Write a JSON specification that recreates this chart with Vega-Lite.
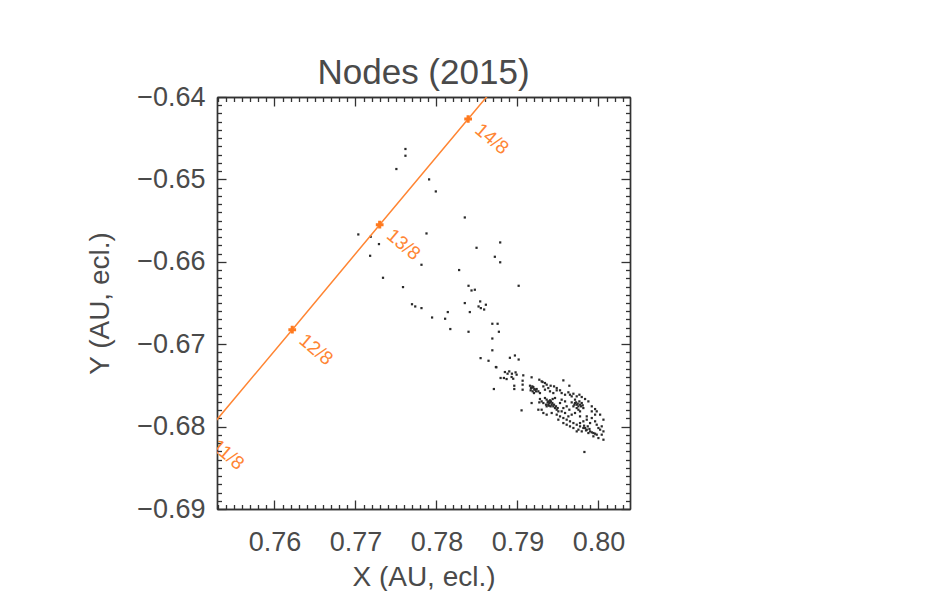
{
  "$schema": "https://vega.github.io/schema/vega-lite/v6.json",
  "width": 413,
  "height": 412,
  "autosize": {"type": "none"},
  "padding": {"left": 217, "top": 97, "right": 311, "bottom": 82},
  "background": "white",
  "config": {
    "view": {"stroke": null},
    "font": "Liberation Sans",
    "axis": {
      "grid": false,
      "domainColor": "#333",
      "domainWidth": 1.4,
      "tickColor": "#333",
      "tickWidth": 1.3,
      "labelFont": "Liberation Sans",
      "labelFontSize": 27,
      "labelColor": "#4a4a4a",
      "labelFlush": false,
      "labelOverlap": false,
      "labelBound": false,
      "titleFont": "Liberation Sans",
      "titleFontSize": 28,
      "titleFontWeight": "normal",
      "titleColor": "#4a4a4a"
    }
  },
  "title": {
    "text": "Nodes (2015)",
    "font": "Liberation Sans",
    "fontSize": 35,
    "fontWeight": "normal",
    "color": "#4a4a4a",
    "anchor": "middle",
    "baseline": "alphabetic",
    "offset": -36
  },
  "datasets": {
    "dust": [
      {"x": 0.77617, "y": -0.64631}, {"x": 0.77617, "y": -0.64713}, {"x": 0.77505, "y": -0.64874},
      {"x": 0.77909, "y": -0.65000}, {"x": 0.77992, "y": -0.65146}, {"x": 0.78350, "y": -0.65462},
      {"x": 0.77877, "y": -0.65656}, {"x": 0.77188, "y": -0.65696}, {"x": 0.77035, "y": -0.65668},
      {"x": 0.77290, "y": -0.65785}, {"x": 0.77181, "y": -0.65927}, {"x": 0.78495, "y": -0.65830},
      {"x": 0.78787, "y": -0.65765}, {"x": 0.78721, "y": -0.65939}, {"x": 0.78787, "y": -0.66006},
      {"x": 0.77815, "y": -0.66036}, {"x": 0.78280, "y": -0.66100}, {"x": 0.77340, "y": -0.66194},
      {"x": 0.77587, "y": -0.66307}, {"x": 0.78396, "y": -0.66291}, {"x": 0.78433, "y": -0.66348},
      {"x": 0.78474, "y": -0.66339}, {"x": 0.79015, "y": -0.66291}, {"x": 0.77698, "y": -0.66515},
      {"x": 0.77738, "y": -0.66542}, {"x": 0.77815, "y": -0.66562}, {"x": 0.78350, "y": -0.66501},
      {"x": 0.78540, "y": -0.66481}, {"x": 0.78520, "y": -0.66542}, {"x": 0.78548, "y": -0.66562},
      {"x": 0.78589, "y": -0.66579}, {"x": 0.78610, "y": -0.66521}, {"x": 0.78412, "y": -0.66610},
      {"x": 0.78140, "y": -0.66610}, {"x": 0.77946, "y": -0.66676}, {"x": 0.78107, "y": -0.66691},
      {"x": 0.78171, "y": -0.66816}, {"x": 0.78396, "y": -0.66849}, {"x": 0.78690, "y": -0.66752},
      {"x": 0.78755, "y": -0.66752}, {"x": 0.78771, "y": -0.66849}, {"x": 0.78690, "y": -0.66931},
      {"x": 0.78690, "y": -0.67074}, {"x": 0.78545, "y": -0.67169}, {"x": 0.78643, "y": -0.67201},
      {"x": 0.78740, "y": -0.67280}, {"x": 0.78907, "y": -0.67165}, {"x": 0.78969, "y": -0.67137},
      {"x": 0.79015, "y": -0.67186},
      {"x": 0.78734, "y": -0.67277}, {"x": 0.78845, "y": -0.67338}, {"x": 0.78878, "y": -0.67358},
      {"x": 0.78899, "y": -0.67330}, {"x": 0.78932, "y": -0.67358}, {"x": 0.78977, "y": -0.67342},
      {"x": 0.78990, "y": -0.67370}, {"x": 0.79072, "y": -0.67378}, {"x": 0.79175, "y": -0.67402},
      {"x": 0.79270, "y": -0.67431}, {"x": 0.79311, "y": -0.67459}, {"x": 0.79340, "y": -0.67471},
      {"x": 0.79361, "y": -0.67491}, {"x": 0.79410, "y": -0.67504}, {"x": 0.79452, "y": -0.67512},
      {"x": 0.79485, "y": -0.67532}, {"x": 0.79567, "y": -0.67439}, {"x": 0.79641, "y": -0.67504},
      {"x": 0.79526, "y": -0.67560}, {"x": 0.78792, "y": -0.67410}, {"x": 0.78833, "y": -0.67410},
      {"x": 0.78866, "y": -0.67423}, {"x": 0.78928, "y": -0.67398}, {"x": 0.78948, "y": -0.67419},
      {"x": 0.79064, "y": -0.67443}, {"x": 0.79064, "y": -0.67491}, {"x": 0.79064, "y": -0.67552},
      {"x": 0.78961, "y": -0.67504}, {"x": 0.78961, "y": -0.67544}, {"x": 0.78709, "y": -0.67544},
      {"x": 0.79155, "y": -0.67504}, {"x": 0.79175, "y": -0.67532}, {"x": 0.79196, "y": -0.67520},
      {"x": 0.79216, "y": -0.67552}, {"x": 0.79188, "y": -0.67572}, {"x": 0.79163, "y": -0.67560},
      {"x": 0.79237, "y": -0.67544}, {"x": 0.79204, "y": -0.67593}, {"x": 0.79258, "y": -0.67572},
      {"x": 0.79278, "y": -0.67593}, {"x": 0.79299, "y": -0.67451}, {"x": 0.79320, "y": -0.67512},
      {"x": 0.79340, "y": -0.67552}, {"x": 0.79381, "y": -0.67532}, {"x": 0.79402, "y": -0.67572},
      {"x": 0.79443, "y": -0.67593}, {"x": 0.79485, "y": -0.67560}, {"x": 0.79546, "y": -0.67593},
      {"x": 0.79588, "y": -0.67613}, {"x": 0.79629, "y": -0.67584}, {"x": 0.79649, "y": -0.67613},
      {"x": 0.79670, "y": -0.67633}, {"x": 0.79691, "y": -0.67601}, {"x": 0.79732, "y": -0.67633},
      {"x": 0.79765, "y": -0.67613}, {"x": 0.79794, "y": -0.67641}, {"x": 0.79835, "y": -0.67665},
      {"x": 0.79876, "y": -0.67694}, {"x": 0.79918, "y": -0.67754}, {"x": 0.79959, "y": -0.67787},
      {"x": 0.79979, "y": -0.67815}, {"x": 0.80021, "y": -0.67855}, {"x": 0.80062, "y": -0.67916},
      {"x": 0.79340, "y": -0.67653}, {"x": 0.79361, "y": -0.67673}, {"x": 0.79381, "y": -0.67694},
      {"x": 0.79402, "y": -0.67706}, {"x": 0.79423, "y": -0.67734}, {"x": 0.79443, "y": -0.67754},
      {"x": 0.79464, "y": -0.67775}, {"x": 0.79485, "y": -0.67795}, {"x": 0.79505, "y": -0.67815},
      {"x": 0.79361, "y": -0.67754}, {"x": 0.79381, "y": -0.67734}, {"x": 0.79402, "y": -0.67681},
      {"x": 0.79435, "y": -0.67665}, {"x": 0.79464, "y": -0.67653}, {"x": 0.79394, "y": -0.67714},
      {"x": 0.79410, "y": -0.67754}, {"x": 0.79320, "y": -0.67714}, {"x": 0.79299, "y": -0.67694},
      {"x": 0.79278, "y": -0.67665}, {"x": 0.79711, "y": -0.67714}, {"x": 0.79732, "y": -0.67734},
      {"x": 0.79753, "y": -0.67754}, {"x": 0.79773, "y": -0.67734}, {"x": 0.79794, "y": -0.67714},
      {"x": 0.79765, "y": -0.67694}, {"x": 0.79732, "y": -0.67775}, {"x": 0.79691, "y": -0.67754},
      {"x": 0.79814, "y": -0.67775}, {"x": 0.79753, "y": -0.67795}, {"x": 0.79773, "y": -0.67815},
      {"x": 0.79711, "y": -0.67673}, {"x": 0.79670, "y": -0.67706}, {"x": 0.79175, "y": -0.67714},
      {"x": 0.79270, "y": -0.67706}, {"x": 0.79258, "y": -0.67795}, {"x": 0.79299, "y": -0.67795},
      {"x": 0.79320, "y": -0.67835}, {"x": 0.79361, "y": -0.67855}, {"x": 0.79423, "y": -0.67835},
      {"x": 0.79485, "y": -0.67855}, {"x": 0.79526, "y": -0.67876}, {"x": 0.79567, "y": -0.67896},
      {"x": 0.79608, "y": -0.67916}, {"x": 0.79629, "y": -0.67876}, {"x": 0.79588, "y": -0.67835},
      {"x": 0.79546, "y": -0.67815}, {"x": 0.79567, "y": -0.67775}, {"x": 0.79608, "y": -0.67754},
      {"x": 0.79641, "y": -0.67795}, {"x": 0.79526, "y": -0.67714}, {"x": 0.79546, "y": -0.67673},
      {"x": 0.79588, "y": -0.67694}, {"x": 0.79649, "y": -0.67936}, {"x": 0.79691, "y": -0.67957},
      {"x": 0.79732, "y": -0.67977}, {"x": 0.79773, "y": -0.67997}, {"x": 0.79814, "y": -0.68017},
      {"x": 0.79856, "y": -0.68037}, {"x": 0.79897, "y": -0.68058}, {"x": 0.79938, "y": -0.68078},
      {"x": 0.79753, "y": -0.68037}, {"x": 0.79794, "y": -0.68058}, {"x": 0.79835, "y": -0.68017},
      {"x": 0.79876, "y": -0.68078}, {"x": 0.79773, "y": -0.67957}, {"x": 0.79814, "y": -0.67936},
      {"x": 0.79856, "y": -0.67916}, {"x": 0.79918, "y": -0.67896}, {"x": 0.79959, "y": -0.67936},
      {"x": 0.79979, "y": -0.67977}, {"x": 0.80000, "y": -0.68017}, {"x": 0.80021, "y": -0.68037},
      {"x": 0.80041, "y": -0.67997}, {"x": 0.80062, "y": -0.68058}, {"x": 0.80041, "y": -0.68098},
      {"x": 0.80062, "y": -0.68159}, {"x": 0.79979, "y": -0.68098}, {"x": 0.79938, "y": -0.68118},
      {"x": 0.80000, "y": -0.68139}, {"x": 0.79732, "y": -0.68058}, {"x": 0.79691, "y": -0.68017},
      {"x": 0.79051, "y": -0.67803}, {"x": 0.79827, "y": -0.68308}, {"x": 0.79918, "y": -0.67815},
      {"x": 0.79959, "y": -0.67855}, {"x": 0.79856, "y": -0.67876}, {"x": 0.79897, "y": -0.67957},
      {"x": 0.79773, "y": -0.67876}, {"x": 0.79711, "y": -0.67835}, {"x": 0.79670, "y": -0.67855},
      {"x": 0.79505, "y": -0.67916}, {"x": 0.79567, "y": -0.67957}, {"x": 0.79608, "y": -0.67977},
      {"x": 0.79649, "y": -0.67997}, {"x": 0.79373, "y": -0.67706}, {"x": 0.79390, "y": -0.67746},
      {"x": 0.79414, "y": -0.67694}, {"x": 0.79431, "y": -0.67714}, {"x": 0.79452, "y": -0.67734},
      {"x": 0.79353, "y": -0.67734}, {"x": 0.79476, "y": -0.67754}, {"x": 0.79497, "y": -0.67775},
      {"x": 0.79724, "y": -0.67706}, {"x": 0.79744, "y": -0.67722}, {"x": 0.79786, "y": -0.67754},
      {"x": 0.79703, "y": -0.67734}, {"x": 0.79806, "y": -0.67742}, {"x": 0.79847, "y": -0.68046},
      {"x": 0.79889, "y": -0.68029}, {"x": 0.79918, "y": -0.68070}, {"x": 0.79823, "y": -0.67989},
      {"x": 0.79959, "y": -0.68086}, {"x": 0.79868, "y": -0.67997}, {"x": 0.79183, "y": -0.67512},
      {"x": 0.79208, "y": -0.67544}, {"x": 0.79229, "y": -0.67572}, {"x": 0.79167, "y": -0.67532}
    ],
    "nodes": [
      {"date": "11/8", "day": 11, "x": 0.75131, "y": -0.68100},
      {"date": "12/8", "day": 12, "x": 0.76219, "y": -0.66824},
      {"date": "13/8", "day": 13, "x": 0.77299, "y": -0.65550},
      {"date": "14/8", "day": 14, "x": 0.78391, "y": -0.64267},
      {"date": "15/8", "day": 15, "x": 0.79483, "y": -0.62984}
    ]
  },
  "layer": [
    {
      "data": {"name": "dust"},
      "mark": {"type": "point", "shape": "square", "filled": true, "size": 5, "color": "#2a2a2a", "opacity": 1, "clip": true},
      "encoding": {
        "x": {
          "field": "x", "type": "quantitative",
          "scale": {"domain": [0.7529, 0.8039], "nice": false, "zero": false},
          "axis": {
            "orient": "bottom",
            "values": [0.76, 0.77, 0.78, 0.79, 0.80],
            "format": ".2f",
            "tickSize": -9,
            "labelPadding": 29,
            "title": "X (AU, ecl.)",
            "titleY": 68,
            "titleBaseline": "middle"
          }
        },
        "y": {
          "field": "y", "type": "quantitative",
          "scale": {"domain": [-0.69, -0.64], "nice": false, "zero": false},
          "axis": {
            "orient": "left",
            "values": [-0.69, -0.68, -0.67, -0.66, -0.65, -0.64],
            "format": ".2f",
            "tickSize": -9,
            "labelPadding": 21,
            "title": "Y (AU, ecl.)",
            "titleX": -117,
            "titleBaseline": "middle"
          }
        }
      }
    },
    {
      "data": {"name": "nodes"},
      "mark": {"type": "line", "color": "#ff8533", "strokeWidth": 1.5, "clip": true},
      "encoding": {
        "x": {
          "field": "x", "type": "quantitative",
          "scale": {"domain": [0.7529, 0.8039], "nice": false, "zero": false},
          "axis": {
            "orient": "bottom", "labels": false, "title": null, "tickSize": -4.5,
            "values": [0.753,0.754,0.755,0.756,0.757,0.758,0.759,0.761,0.762,0.763,0.764,0.765,0.766,0.767,0.768,0.769,0.771,0.772,0.773,0.774,0.775,0.776,0.777,0.778,0.779,0.781,0.782,0.783,0.784,0.785,0.786,0.787,0.788,0.789,0.791,0.792,0.793,0.794,0.795,0.796,0.797,0.798,0.799,0.801,0.802,0.803]
          }
        },
        "y": {
          "field": "y", "type": "quantitative",
          "scale": {"domain": [-0.69, -0.64], "nice": false, "zero": false},
          "axis": {
            "orient": "left", "labels": false, "title": null, "tickSize": -4.5,
            "values": [-0.689,-0.688,-0.687,-0.686,-0.685,-0.684,-0.683,-0.682,-0.681,-0.679,-0.678,-0.677,-0.676,-0.675,-0.674,-0.673,-0.672,-0.671,-0.669,-0.668,-0.667,-0.666,-0.665,-0.664,-0.663,-0.662,-0.661,-0.659,-0.658,-0.657,-0.656,-0.655,-0.654,-0.653,-0.652,-0.651,-0.649,-0.648,-0.647,-0.646,-0.645,-0.644,-0.643,-0.642,-0.641]
          }
        },
        "order": {"field": "day", "type": "quantitative"}
      }
    },
    {
      "data": {"name": "nodes"},
      "mark": {"type": "point", "shape": "cross", "filled": true, "size": 60, "color": "#ff7a1f", "opacity": 1, "clip": true},
      "encoding": {
        "x": {
          "field": "x", "type": "quantitative",
          "scale": {"domain": [0.7529, 0.8039], "nice": false, "zero": false},
          "axis": {"orient": "top", "labels": false, "title": null, "tickSize": -9, "values": [0.76, 0.77, 0.78, 0.79, 0.80]}
        },
        "y": {
          "field": "y", "type": "quantitative",
          "scale": {"domain": [-0.69, -0.64], "nice": false, "zero": false},
          "axis": {"orient": "right", "labels": false, "title": null, "tickSize": -9, "values": [-0.69, -0.68, -0.67, -0.66, -0.65, -0.64]}
        }
      }
    },
    {
      "data": {"name": "nodes"},
      "mark": {"type": "text", "color": "#ff8533", "font": "Liberation Sans", "fontSize": 19, "angle": 40, "align": "center", "baseline": "middle", "dx": 31, "dy": 0, "clip": true},
      "encoding": {
        "text": {"field": "date", "type": "nominal"},
        "x": {
          "field": "x", "type": "quantitative",
          "scale": {"domain": [0.7529, 0.8039], "nice": false, "zero": false},
          "axis": {
            "orient": "top", "labels": false, "title": null, "tickSize": -4.5,
            "values": [0.753,0.754,0.755,0.756,0.757,0.758,0.759,0.761,0.762,0.763,0.764,0.765,0.766,0.767,0.768,0.769,0.771,0.772,0.773,0.774,0.775,0.776,0.777,0.778,0.779,0.781,0.782,0.783,0.784,0.785,0.786,0.787,0.788,0.789,0.791,0.792,0.793,0.794,0.795,0.796,0.797,0.798,0.799,0.801,0.802,0.803]
          }
        },
        "y": {
          "field": "y", "type": "quantitative",
          "scale": {"domain": [-0.69, -0.64], "nice": false, "zero": false},
          "axis": {
            "orient": "right", "labels": false, "title": null, "tickSize": -4.5,
            "values": [-0.689,-0.688,-0.687,-0.686,-0.685,-0.684,-0.683,-0.682,-0.681,-0.679,-0.678,-0.677,-0.676,-0.675,-0.674,-0.673,-0.672,-0.671,-0.669,-0.668,-0.667,-0.666,-0.665,-0.664,-0.663,-0.662,-0.661,-0.659,-0.658,-0.657,-0.656,-0.655,-0.654,-0.653,-0.652,-0.651,-0.649,-0.648,-0.647,-0.646,-0.645,-0.644,-0.643,-0.642,-0.641]
          }
        }
      }
    }
  ],
  "resolve": {"axis": {"x": "independent", "y": "independent"}}
}
